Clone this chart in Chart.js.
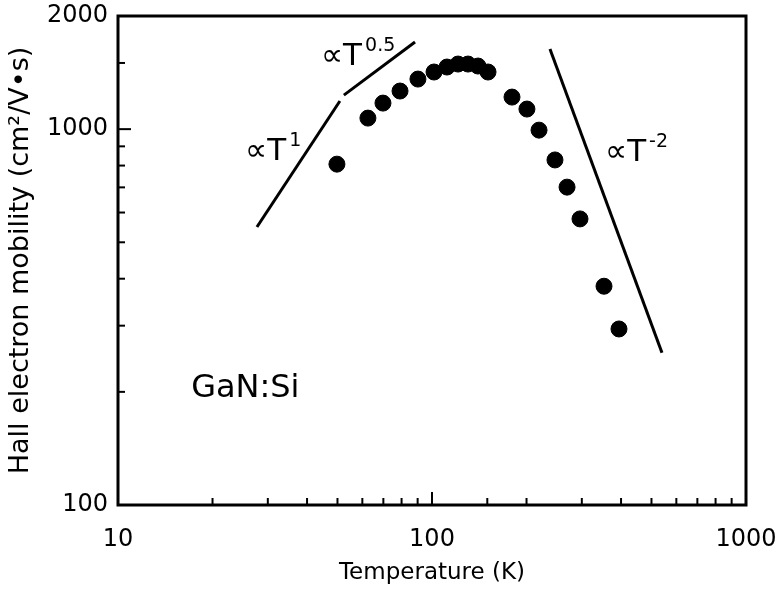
<!DOCTYPE html>
<html>
<head>
<meta charset="utf-8">
<title>Hall electron mobility GaN:Si</title>
<script src="https://cdn.jsdelivr.net/npm/chart.js@4/dist/chart.umd.min.js"></script>
<style>
  html, body { margin: 0; padding: 0; background: #fff; }
  #wrap { width: 779px; height: 593px; position: relative; }
</style>
</head>
<body>
<div id="wrap"><canvas id="mobility-chart"></canvas></div>
<script>
// measured Hall mobility vs temperature
const temperature = [49.8, 62.5, 69.8, 79.1, 90.2, 101.5, 111.6, 121, 130.2, 140.1, 150.8,
  179.8, 200.6, 219.2, 246.4, 269.2, 296, 353, 394];
const mobility = [807, 1070, 1173, 1263, 1359, 1419, 1463, 1490, 1490, 1472, 1419,
  1217, 1131, 994, 828, 701, 577, 382, 294];

// power-law guide lines
const guideT1Temp = [27.7, 50.9];
const guideT1Mob = [549, 1188];
const guideT05Temp = [52.4, 88.3];
const guideT05Mob = [1232, 1705];
const guideTm2Temp = [237.5, 540];
const guideTm2Mob = [1634, 254];

// axis labels
const xTickLabels = [10, 100, 1000];
const yTickLabels = [100, 1000, 2000];

// slope labels: text, superscript, anchor (T, mobility)
const slopeLabels = [
  { text: "\u221DT", sup: "1", t: 25.4, mu: 827 },
  { text: "\u221DT", sup: "0.5", t: 44.3, mu: 1481 },
  { text: "\u221DT", sup: "-2", t: 355.6, mu: 822 },
];
const sampleLabel = { text: "GaN:Si", t: 17.1, mu: 194 };

Chart.defaults.font.family = "'DejaVu Sans', sans-serif";
Chart.defaults.color = "#000";

function toPoints(xs, ys) {
  return xs.map((x, i) => ({ x: x, y: ys[i] }));
}

function isDecade(v) {
  let l = Math.log10(v);
  return Math.abs(l - Math.round(l)) < 1e-6;
}

const framePlugin = {
  id: "frame",
  afterDraw(chart) {
    const { ctx, chartArea: a, scales } = chart;
    ctx.save();
    ctx.strokeStyle = "#000";
    ctx.lineWidth = 3;
    ctx.strokeRect(a.left, a.top, a.right - a.left, a.bottom - a.top);
    ctx.lineWidth = 2;
    scales.x.ticks.forEach((t) => {
      if (t.value <= scales.x.min || t.value >= scales.x.max) return;
      let px = scales.x.getPixelForValue(t.value);
      let len = isDecade(t.value) ? 13 : 7;
      ctx.beginPath();
      ctx.moveTo(px, a.bottom);
      ctx.lineTo(px, a.bottom - len);
      ctx.stroke();
    });
    scales.y.ticks.forEach((t) => {
      if (t.value <= scales.y.min || t.value >= scales.y.max) return;
      let py = scales.y.getPixelForValue(t.value);
      let len = isDecade(t.value) ? 13 : 7;
      ctx.beginPath();
      ctx.moveTo(a.left, py);
      ctx.lineTo(a.left + len, py);
      ctx.stroke();
    });
    ctx.restore();
  },
};

const labelPlugin = {
  id: "slopeLabels",
  afterDraw(chart) {
    const { ctx, scales } = chart;
    ctx.save();
    ctx.fillStyle = "#000";
    ctx.textBaseline = "alphabetic";
    ctx.textAlign = "left";
    slopeLabels.forEach((l) => {
      let x = scales.x.getPixelForValue(l.t);
      let y = scales.y.getPixelForValue(l.mu);
      ctx.font = "31px 'DejaVu Sans', sans-serif";
      ctx.fillText(l.text, x, y);
      let w = ctx.measureText(l.text).width;
      ctx.font = "19px 'DejaVu Sans', sans-serif";
      ctx.fillText(l.sup, x + w + 3, y - 14);
    });
    ctx.font = "32px 'DejaVu Sans', sans-serif";
    ctx.fillText(
      sampleLabel.text,
      scales.x.getPixelForValue(sampleLabel.t),
      scales.y.getPixelForValue(sampleLabel.mu)
    );
    ctx.restore();
  },
};

const guideStyle = {
  showLine: true,
  borderColor: "#000",
  borderWidth: 3,
  pointRadius: 0,
  fill: false,
};

new Chart("mobility-chart", {
  type: "scatter",
  data: {
    datasets: [
      {
        label: "GaN:Si",
        data: toPoints(temperature, mobility),
        backgroundColor: "#000",
        borderColor: "#000",
        pointRadius: 8,
        pointHoverRadius: 8,
      },
      Object.assign({ label: "T1", data: toPoints(guideT1Temp, guideT1Mob) }, guideStyle),
      Object.assign({ label: "T0.5", data: toPoints(guideT05Temp, guideT05Mob) }, guideStyle),
      Object.assign({ label: "T-2", data: toPoints(guideTm2Temp, guideTm2Mob) }, guideStyle),
    ],
  },
  options: {
    responsive: true,
    maintainAspectRatio: false,
    animation: false,
    layout: { padding: { left: 0, right: 33, top: 16, bottom: 0 } },
    plugins: {
      legend: { display: false },
      tooltip: { enabled: false },
    },
    scales: {
      x: {
        type: "logarithmic",
        min: 10,
        max: 1000,
        grid: { display: false, drawTicks: false },
        border: { display: false },
        afterFit: (scale) => {
          scale.height = 88;
          scale.paddingLeft = 0;
          scale.paddingRight = 0;
        },
        ticks: {
          autoSkip: false,
          maxRotation: 0,
          padding: 20,
          font: { size: 24 },
          callback: (v) => (xTickLabels.includes(v) ? String(v) : ""),
        },
        title: {
          display: true,
          text: "Temperature (K)",
          font: { size: 23 },
          padding: { top: 0, bottom: 6 },
        },
      },
      y: {
        type: "logarithmic",
        min: 100,
        max: 2000,
        grid: { display: false, drawTicks: false },
        border: { display: false },
        afterFit: (scale) => {
          scale.width = 118;
          scale.paddingTop = 0;
          scale.paddingBottom = 0;
        },
        ticks: {
          autoSkip: false,
          padding: 10,
          font: { size: 24 },
          callback: (v) => (yTickLabels.includes(v) ? String(v) : ""),
        },
        title: {
          display: true,
          text: "Hall electron mobility (cm\u00B2/V\u2022s)",
          font: { size: 27 },
          padding: { top: 5, bottom: 0 },
        },
      },
    },
  },
  plugins: [framePlugin, labelPlugin],
});
</script>
</body>
</html>
